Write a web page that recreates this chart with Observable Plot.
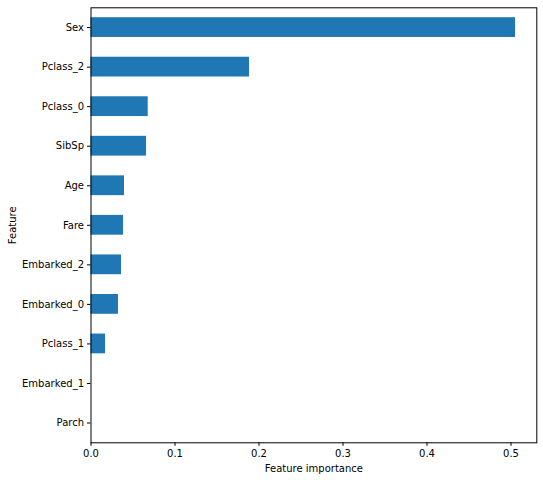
<!DOCTYPE html>
<html>
<head>
<meta charset="utf-8">
<script src="https://cdn.jsdelivr.net/npm/d3@7"></script>
<script src="https://cdn.jsdelivr.net/npm/@observablehq/plot@0.6"></script>
<style>
  html, body { margin: 0; padding: 0; background: #fff; }
  #chart svg { display: block; }
</style>
</head>
<body>
<div id="chart"></div>
<script>
const features = ["Sex", "Pclass_2", "Pclass_0", "SibSp", "Age", "Fare", "Embarked_2", "Embarked_0", "Pclass_1", "Embarked_1", "Parch"];
const importances = [0.5054, 0.1887, 0.0681, 0.0661, 0.0399, 0.0387, 0.0363, 0.0327, 0.0173, 0.0, 0.0];
const xTicks = [0, 0.1, 0.2, 0.3, 0.4, 0.5];

const data = features.map((f, i) => ({feature: f, value: importances[i]}));

const chart = Plot.plot({
  width: 543,
  height: 480,
  marginLeft: 90.5,
  marginRight: 6.7,
  marginTop: 7.3,
  marginBottom: 37.7,
  style: {fontFamily: "DejaVu Sans", fontSize: "10px", color: "#000", background: "#fff"},
  x: {domain: [0, 0.5307]},
  y: {domain: features, paddingInner: 0.5, paddingOuter: 0.25, align: 0.5, round: false},
  marks: [
    Plot.barX(data, {x: "value", y: "feature", fill: "#1f77b4"}),
    Plot.axisX({ticks: xTicks, tickFormat: d3.format(".1f"), tickSize: 3.5, tickPadding: 3.5, fontSize: 10,
      label: "Feature importance", labelAnchor: "center", labelArrow: "none", labelOffset: 29}),
    Plot.axisY({tickSize: 3.5, tickPadding: 3.5, fontSize: 10,
      label: "Feature", labelAnchor: "center", labelArrow: "none", labelOffset: 82}),
    Plot.frame({stroke: "#000", strokeWidth: 1})
  ]
});
document.getElementById("chart").appendChild(chart);
</script>
</body>
</html>
